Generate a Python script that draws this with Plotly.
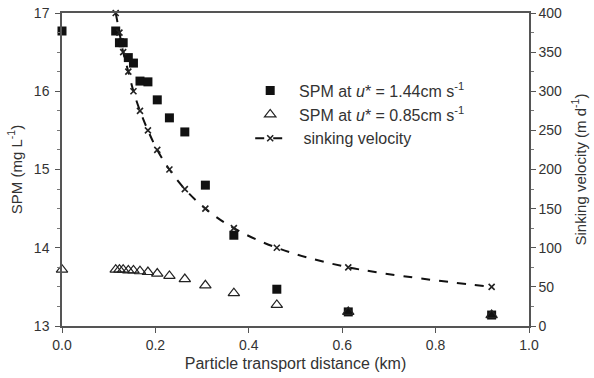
import plotly.graph_objects as go

# Data
dist_spm = [0.0, 0.115, 0.123, 0.131, 0.142, 0.153, 0.167, 0.184, 0.204, 0.230, 0.263, 0.307, 0.368, 0.460, 0.613, 0.920]
spm_144 = [16.77, 16.77, 16.62, 16.62, 16.43, 16.36, 16.13, 16.12, 15.89, 15.66, 15.48, 14.80, 14.16, 13.47, 13.18, 13.14]
spm_085 = [13.72, 13.72, 13.72, 13.72, 13.71, 13.71, 13.70, 13.69, 13.67, 13.64, 13.60, 13.52, 13.42, 13.27, 13.18, 13.14]

dist_ws = [0.115, 0.123, 0.131, 0.142, 0.153, 0.167, 0.184, 0.204, 0.230, 0.263, 0.307, 0.368, 0.460, 0.613, 0.920]
sinking = [400, 375, 350, 325, 300, 275, 250, 225, 200, 175, 150, 125, 100, 75, 50]

FONT = "Arial, Liberation Sans, sans-serif"
TXT = "#333333"

fig = go.Figure()
fig.add_trace(go.Scatter(
    x=dist_spm, y=spm_144, mode="markers",
    name="  SPM at <i>u</i>* = 1.44cm s<sup>-1</sup>",
    marker=dict(symbol="square", size=9, color="#111111"),
    cliponaxis=False, legendgroup="a",
))
fig.add_trace(go.Scatter(
    x=dist_spm, y=spm_085, mode="markers",
    name="  SPM at <i>u</i>* = 0.85cm s<sup>-1</sup>",
    marker=dict(symbol="triangle-up-open", size=10, color="#222222", line=dict(width=1.2)),
    cliponaxis=False, legendgroup="b",
))
fig.add_trace(go.Scatter(
    x=dist_ws, y=sinking, mode="lines+markers", yaxis="y2",
    name="   sinking velocity",
    line=dict(color="#111111", width=2, dash="dash", shape="spline"),
    marker=dict(symbol="x-thin", size=6, color="#222222", line=dict(width=1.6, color="#222222")),
    cliponaxis=False, legendgroup="c",
))

axis_common = dict(
    showline=True, linecolor="#555555", linewidth=1.5,
    ticks="outside", ticklen=5, tickcolor="#555555", tickwidth=1,
    tickfont=dict(family=FONT, size=14, color=TXT),
    showgrid=False, zeroline=False, automargin=False,
)

fig.update_layout(
    width=594, height=378,
    margin=dict(l=62, r=65, t=13, b=52),
    paper_bgcolor="white", plot_bgcolor="white",
    font=dict(family=FONT, size=14, color=TXT),
    xaxis=dict(
        range=[0, 1], dtick=0.2, tickformat=".1f", mirror=True,
        title=dict(text="Particle transport distance (km)", font=dict(family=FONT, size=16, color=TXT), standoff=6),
        **axis_common,
    ),
    yaxis=dict(
        range=[13, 17], dtick=1,
        minor=dict(dtick=0.25, ticks="outside", ticklen=3, tickcolor="#777777"),
        title=dict(text="SPM (mg L<sup>-1</sup>)", font=dict(family=FONT, size=15, color=TXT), standoff=8),
        ticklabelstandoff=3,
        **axis_common,
    ),
    yaxis2=dict(
        range=[0, 400], dtick=50, overlaying="y", side="right",
        minor=dict(dtick=25, ticks="outside", ticklen=3, tickcolor="#777777"),
        title=dict(text="Sinking velocity (m d<sup>-1</sup>)", font=dict(family=FONT, size=15, color=TXT), standoff=14),
        **axis_common,
    ),
    showlegend=True,
    legend=dict(
        x=0.403, y=0.806, xanchor="left", yanchor="top",
        bgcolor="rgba(0,0,0,0)", font=dict(family=FONT, size=16, color=TXT),
        tracegroupgap=0, itemwidth=30,
    ),
)

fig.write_html(
    "out.html",
    config={"displayModeBar": False},
    post_script="document.body.style.margin='0';window.dispatchEvent(new Event('resize'));",
)
